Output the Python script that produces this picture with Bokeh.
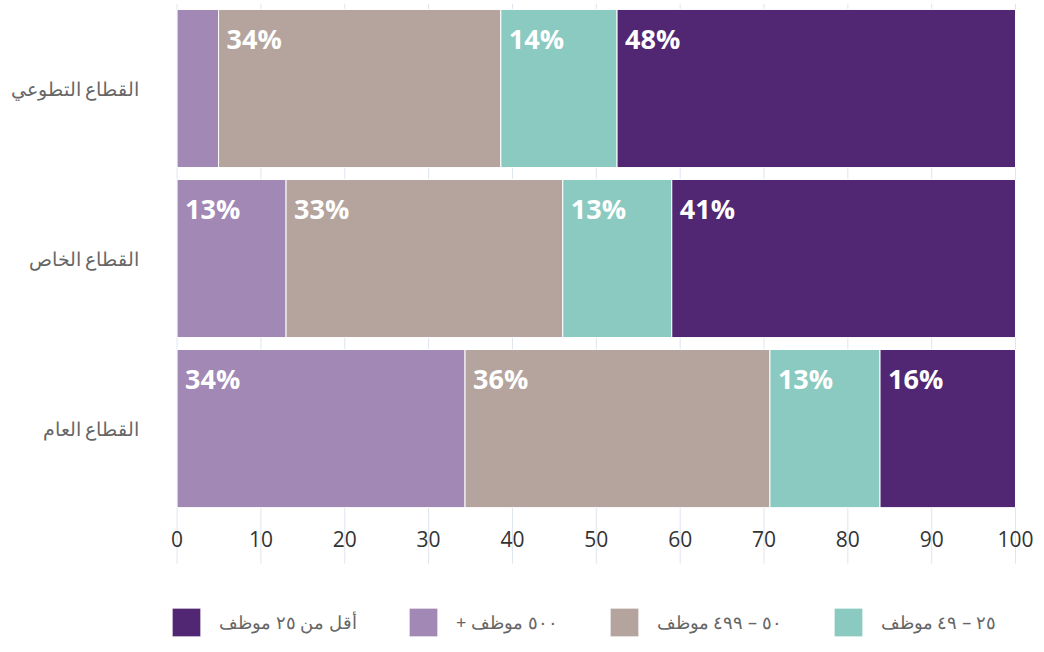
from bokeh.plotting import figure
from bokeh.models import (ColumnDataSource, Range1d, Legend, LegendItem, FixedTicker, LabelSet)
from bokeh.core.properties import value
from bokeh.embed import file_html
from bokeh.resources import INLINE

# ---- data ----
categories = ["القطاع التطوعي", "القطاع الخاص", "القطاع العام"]
series_names = ["+ ٥٠٠ موظف", "٥٠ – ٤٩٩ موظف", "٢٥ – ٤٩ موظف", "أقل من ٢٥ موظف"]
s_500_plus = [5, 13, 34]
s_50_499 = [34, 33, 36]
s_25_49 = [14, 13, 13]
s_under_25 = [48, 41, 16]
colors = ["#a288b5", "#b4a49d", "#8bcac0", "#512773"]
legend_order = [3, 0, 1, 2]
x_ticks = [0, 10, 20, 30, 40, 50, 60, 70, 80, 90, 100]

series_values = [s_500_plus, s_50_499, s_25_49, s_under_25]
n = len(categories)
totals = [sum(v[i] for v in series_values) for i in range(n)]
ypos = [n - 1 - i for i in range(n)]  # first category at the top
band_bottom = -0.5
band_top = n - 0.5
grid_bottom = band_bottom - 0.294

p = figure(width=1036, height=644, output_backend="svg", toolbar_location=None,
           x_axis_location=None,
           y_range=Range1d(band_bottom - 0.77, band_top),
           x_range=Range1d(-1.5, 102.5),
           min_border_left=164, min_border_right=0, min_border_top=3,
           min_border_bottom=0)
p.outline_line_color = None
p.background_fill_color = "white"
p.xgrid.visible = False
p.ygrid.visible = False

# vertical grid lines, running a little below the bars through the tick labels
gsrc = ColumnDataSource(dict(x=x_ticks, y0=[grid_bottom] * len(x_ticks),
                             y1=[band_top] * len(x_ticks)))
p.segment(x0="x", y0="y0", x1="x", y1="y1", source=gsrc,
          line_color="#dfe5ee", line_width=1)

renderers = []
cum = [0.0] * n
lab_x, lab_y, lab_t = [], [], []
for k, vals in enumerate(series_values):
    pct = [vals[i] / totals[i] * 100 for i in range(n)]
    left = cum[:]
    right = [cum[i] + pct[i] for i in range(n)]
    src = ColumnDataSource(dict(y=ypos, left=left, right=right))
    r = p.hbar(y="y", left="left", right="right", height=0.93, source=src,
               fill_color=colors[k], line_color="white", line_width=1)
    renderers.append(r)
    for i in range(n):
        if pct[i] >= 8:
            lab_x.append(left[i])
            lab_y.append(ypos[i])
            lab_t.append(f"{round(pct[i])}%")
    cum = right

lsrc = ColumnDataSource(dict(x=lab_x, y=lab_y, t=lab_t))
p.text(x="x", y="y", text="t", source=lsrc, x_offset=8, y_offset=-50,
       text_color="white", text_font=value("Open Sans"), text_font_style="bold",
       text_font_size="27px", text_baseline="middle", text_align="left")

# x tick labels just under the bars
tsrc = ColumnDataSource(dict(x=x_ticks, y=[band_bottom] * len(x_ticks),
                             t=[str(v) for v in x_ticks]))
p.add_layout(LabelSet(x="x", y="y", text="t", source=tsrc, y_offset=-25,
                      text_align="center", text_baseline="middle",
                      text_font=value("Open Sans"), text_font_size="21px",
                      text_color="#333333"))

# y axis with category names
ya = p.yaxis[0]
ya.ticker = FixedTicker(ticks=ypos)
ya.major_label_overrides = {ypos[i]: categories[i] for i in range(n)}
ya.axis_line_color = None
ya.major_tick_line_color = None
ya.minor_tick_line_color = None
ya.major_label_standoff = 19
ya.major_label_text_font = "Noto Sans"
ya.major_label_text_font_size = "19px"
ya.major_label_text_color = "#666666"

items = [LegendItem(label=series_names[k], renderers=[renderers[k]]) for k in legend_order]
legend = Legend(items=items, orientation="horizontal", location="bottom_left",
                glyph_width=36, glyph_height=36, label_standoff=15, spacing=48,
                label_text_font="Noto Sans", label_text_font_size="18px",
                label_text_color="#666666", border_line_color=None,
                padding=0, margin=4, background_fill_alpha=0)
p.add_layout(legend)

open("out.html", "w").write(file_html(p, INLINE))
